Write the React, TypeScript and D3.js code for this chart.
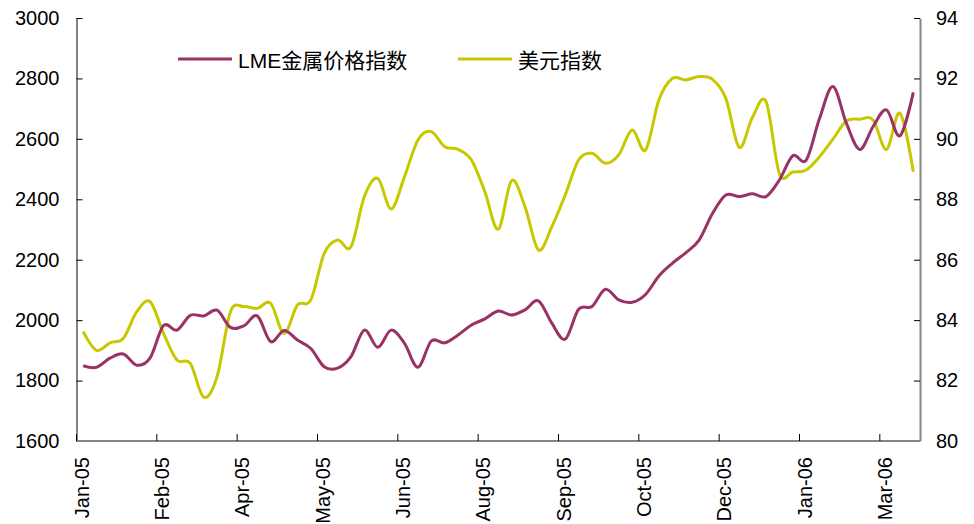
import React, { useRef, useEffect } from 'react';
import * as d3 from 'd3';

// weekly closes, Fridays from 7 Jan 2005
const weeks = d3.timeFriday.range(new Date(2005, 0, 7), new Date(2006, 2, 18));
const lmeIndex = [
  1849, 1844, 1874, 1888, 1851, 1875, 1982, 1967, 2016, 2014,
  2033, 1976, 1981, 2014, 1929, 1966, 1934, 1906, 1846, 1841,
  1879, 1967, 1910, 1967, 1923, 1844, 1931, 1925, 1951, 1984,
  2004, 2030, 2017, 2034, 2064, 1990, 1937, 2036, 2045, 2102,
  2067, 2059, 2085, 2146, 2188, 2223, 2265, 2353, 2414, 2409,
  2418, 2409, 2464, 2544, 2530, 2668, 2773, 2652, 2565, 2641,
  2696, 2610, 2754,
];
const usdIndex = [
  83.62, 83.0, 83.25, 83.4, 84.28, 84.61, 83.56, 82.68, 82.57, 81.45,
  82.13, 84.28, 84.45, 84.39, 84.56, 83.56, 84.5, 84.67, 86.21, 86.65,
  86.43, 88.09, 88.69, 87.68, 88.75, 89.96, 90.24, 89.74, 89.65, 89.3,
  88.25, 87.01, 88.62, 87.75, 86.32, 87.09, 88.14, 89.3, 89.52, 89.19,
  89.47, 90.29, 89.63, 91.29, 92.0, 91.95, 92.06, 91.97, 91.34, 89.72,
  90.73, 91.23, 88.85, 88.9, 88.97, 89.41, 89.99, 90.59, 90.65, 90.62,
  89.65, 90.85, 88.91,
];
const tickLabels = ['Jan-05', 'Feb-05', 'Apr-05', 'May-05', 'Jun-05', 'Aug-05',
  'Sep-05', 'Oct-05', 'Dec-05', 'Jan-06', 'Mar-06'];
const leftTicks = [1600, 1800, 2000, 2200, 2400, 2600, 2800, 3000];
const rightTicks = [80, 82, 84, 86, 88, 90, 92, 94];
const seriesNames = ['LME金属价格指数', '美元指数'];
const colors = ['#993366', '#C8C800'];

const W = 974, H = 524;
const left = 76.5, right = 920, top = 18, bottom = 441;
const FONT = "'Liberation Sans', Arial, 'Noto Sans CJK SC', sans-serif";

export default function App() {
  const ref = useRef<SVGSVGElement>(null);

  useEffect(() => {
    const svg = d3.select(ref.current);
    svg.selectAll('*').remove();
    const n = lmeIndex.length;

    const x = d3.scaleLinear().domain([0, n]).range([left, right]);
    const yL = d3.scaleLinear().domain([1600, 3000]).range([bottom, top]);
    const yR = d3.scaleLinear().domain([80, 94]).range([bottom, top]);

    const g = svg.append('g').style('font-family', FONT).style('font-size', '20px');

    // left axis
    const la = g.append('g').attr('transform', `translate(${left},0)`)
      .call(d3.axisLeft(yL).tickValues(leftTicks).tickSizeInner(-6).tickSizeOuter(0)
        .tickPadding(17).tickFormat(d3.format('d')));
    la.select('.domain').attr('stroke', '#858585').attr('stroke-width', 2);
    la.selectAll('.tick line').attr('stroke', '#000');
    la.selectAll('.tick text').attr('font-size', 20).attr('font-family', FONT).attr('fill', '#000');

    // right axis
    const ra = g.append('g').attr('transform', `translate(${right},0)`)
      .call(d3.axisRight(yR).tickValues(rightTicks).tickSizeInner(-6).tickSizeOuter(0)
        .tickPadding(16).tickFormat(d3.format('d')));
    ra.select('.domain').attr('stroke', '#858585').attr('stroke-width', 2);
    ra.selectAll('.tick line').attr('stroke', '#000');
    ra.selectAll('.tick text').attr('font-size', 20).attr('font-family', FONT).attr('fill', '#000');

    // bottom axis
    const tickIdx = d3.range(0, n, 6);
    g.append('line')
      .attr('x1', left).attr('x2', right).attr('y1', bottom).attr('y2', bottom)
      .attr('stroke', '#858585').attr('stroke-width', 2);
    g.selectAll('line.xt').data(tickIdx).enter().append('line')
      .attr('class', 'xt')
      .attr('x1', d => x(d)).attr('x2', d => x(d))
      .attr('y1', bottom).attr('y2', bottom - 7)
      .attr('stroke', '#000');
    g.selectAll('text.xl').data(tickIdx).enter().append('text')
      .attr('class', 'xl')
      .attr('transform', d => `translate(${x(d) + 12},457) rotate(-90)`)
      .attr('text-anchor', 'end')
      .text((d, i) => tickLabels[i] ?? d3.timeFormat('%b-%y')(weeks[d]));

    // lines
    const line = (scale, vals) => d3.line<number>()
      .x((d, i) => x(i + 0.5))
      .y(d => scale(d))
      .curve(d3.curveCardinal.tension(0))(vals);

    g.append('path').attr('d', line(yR, usdIndex))
      .attr('fill', 'none').attr('stroke', colors[1]).attr('stroke-width', 3);
    g.append('path').attr('d', line(yL, lmeIndex))
      .attr('fill', 'none').attr('stroke', colors[0]).attr('stroke-width', 3);

    // legend
    const legendX = [178, 458];
    const lg = g.selectAll('g.lg').data(seriesNames).enter().append('g')
      .attr('class', 'lg')
      .attr('transform', (d, i) => `translate(${legendX[i]},59)`);
    lg.append('line').attr('x1', 0).attr('x2', 54).attr('y1', 0).attr('y2', 0)
      .attr('stroke', (d, i) => colors[i]).attr('stroke-width', 3);
    lg.append('text').attr('x', 60).attr('y', 9).attr('fill', '#000')
      .style('font-size', '21px').text(d => d);
  }, []);

  return (
    <svg ref={ref} width={W} height={H}
      style={{ position: 'absolute', left: 0, top: 0, background: '#fff' }} />
  );
}
